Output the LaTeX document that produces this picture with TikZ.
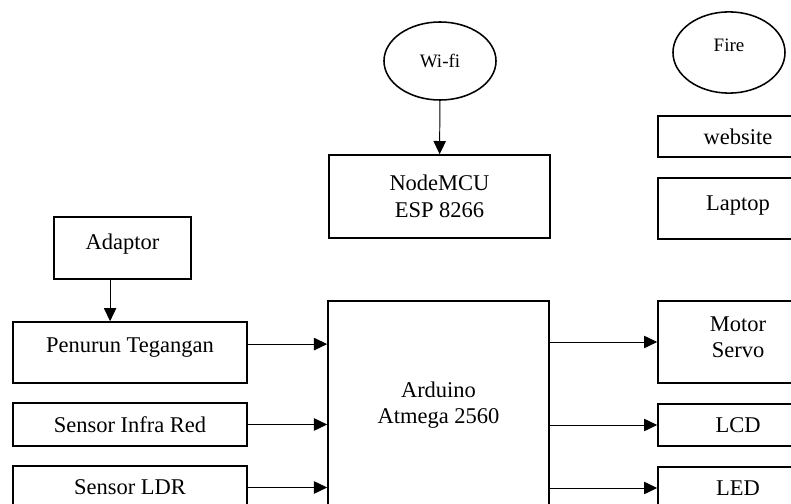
\documentclass[tikz,border=0pt]{standalone}
\usepackage{fontspec}
\setmainfont{Liberation Serif}
\usepackage{tikz}
\usetikzlibrary{arrows.meta, positioning, shapes.geometric, calc}

\begin{document}
\begin{tikzpicture}[
    x=0.025cm, y=-0.025cm,
    blok/.style={draw=black, line width=1.1pt, align=center, inner sep=0pt, font=\fontsize{16}{19}\selectfont},
    awan/.style={ellipse, draw=black, line width=1.1pt, inner sep=0pt, minimum width=2.8cm, font=\fontsize{13.5}{16}\selectfont},
    kiri/.style={blok, minimum width=5.85cm},
    kanan/.style={blok, minimum width=4cm},
    panah/.style={-{Triangle[length=3.3mm, width=3.1mm]}, line width=0.7pt}
]
\useasboundingbox (0,0) rectangle (791,504);

% Top: wifi and NodeMCU
\node[awan, minimum height=1.95cm] (wifi) at (440,61) {Wi-fi};
\node[blok, minimum width=5.525cm, minimum height=2.075cm] (nmcu) at (439.5,196.5) {NodeMCU\\ESP 8266};

% Top right: fire, website, laptop
\node[awan, minimum height=2.03cm, label={[font=\fontsize{13.5}{16}\selectfont, yshift=0.19cm]center:Fire}] (fire) at (729,52.5) {};
\node[kanan, minimum height=1.025cm] (web) at (738,136.5) {website};
\node[kanan, minimum height=1.525cm, label={[blok, draw=none, yshift=0.08cm]center:Laptop}] (laptop) at (738,208.5) {};

% Left: power and sensors
\node[blok, minimum width=3.425cm, minimum height=1.55cm, label={[blok, draw=none, yshift=0.1cm]center:Adaptor}] (adp) at (122.5,248) {};
\node[kiri, minimum height=1.525cm, label={[blok, draw=none, yshift=0.12cm]center:Penurun Tegangan}] (pen) at (130,352.5) {};
\node[kiri, minimum height=1.075cm] (infra) at (130,424.5) {Sensor Infra Red};
\node[kiri, minimum height=1.075cm] (ldr) at (130,487.5) {Sensor LDR};

% Middle: controller
\node[blok, minimum width=5.525cm, minimum height=5.2cm] (ard) at (438.5,405) {Arduino\\Atmega 2560};

% Right: outputs
\node[kanan, minimum height=2.05cm, label={[blok, draw=none, yshift=0.12cm]center:Motor\\Servo}] (motor) at (738,342) {};
\node[kanan, minimum height=1.05cm] (lcd) at (738,425) {LCD};
\node[kanan, minimum height=1.05cm] (led) at (738,488) {LED};

% Connections
\draw[panah] (wifi) -- (nmcu);
\draw[panah] ([xshift=-0.31cm]adp.south) -- ([xshift=-0.31cm]adp.south |- pen.north);
\draw[panah] ([yshift=0.21cm]pen.east) -- ([yshift=0.21cm]pen.east -| ard.west);
\draw[panah] (infra.east) -- (infra.east -| ard.west);
\draw[panah] (ldr.east) -- (ldr.east -| ard.west);
\draw[panah] (ard.east |- motor.west) -- (motor.west);
\draw[panah] (ard.east |- lcd.west) -- (lcd.west);
\draw[panah] (ard.east |- led.west) -- (led.west);
\end{tikzpicture}
\end{document}
